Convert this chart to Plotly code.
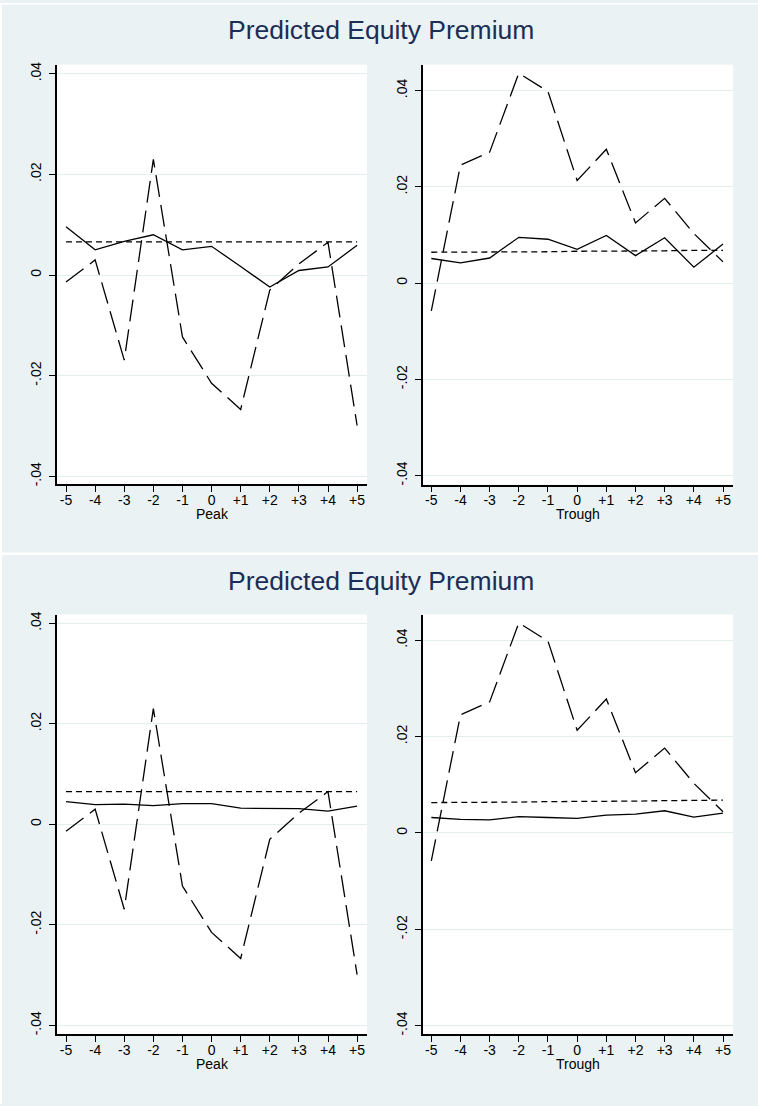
import plotly.graph_objects as go

# Event-time axis around business-cycle turning points
periods = [-5, -4, -3, -2, -1, 0, 1, 2, 3, 4, 5]
period_labels = ["-5", "-4", "-3", "-2", "-1", "0", "+1", "+2", "+3", "+4", "+5"]

# Upper graph: peak window
peak_model_a = [0.0096, 0.0050, 0.0067, 0.0080, 0.0050, 0.0057, 0.0017, -0.0024, 0.0009, 0.0016, 0.0059]
peak_realized = [-0.0014, 0.0030, -0.0169, 0.0230, -0.0123, -0.0215, -0.0267, -0.0030, 0.0022, 0.0065, -0.0299]
peak_mean = [0.0066, 0.0066, 0.0066, 0.0066, 0.0066, 0.0066, 0.0066, 0.0066, 0.0066, 0.0066, 0.0066]

# Upper graph: trough window
trough_model_a = [0.0051, 0.0042, 0.0052, 0.0095, 0.0091, 0.0070, 0.0099, 0.0057, 0.0094, 0.0033, 0.0081]
trough_realized = [-0.0058, 0.0245, 0.0272, 0.0436, 0.0398, 0.0213, 0.0278, 0.0125, 0.0176, 0.0103, 0.0044]
trough_mean = [0.0064, 0.0064, 0.0065, 0.0065, 0.0065, 0.0066, 0.0066, 0.0067, 0.0067, 0.0068, 0.0068]

# Lower graph: alternative predictor
peak_model_b = [0.0045, 0.0039, 0.0040, 0.0037, 0.0041, 0.0041, 0.0032, 0.0031, 0.0031, 0.0026, 0.0036]
trough_model_b = [0.0032, 0.0028, 0.0027, 0.0034, 0.0032, 0.0030, 0.0037, 0.0039, 0.0046, 0.0033, 0.0041]
peak_mean_b = [0.0065, 0.0065, 0.0065, 0.0065, 0.0065, 0.0065, 0.0065, 0.0065, 0.0065, 0.0065, 0.0065]
trough_mean_b = [0.0063, 0.0063, 0.0064, 0.0064, 0.0065, 0.0065, 0.0066, 0.0066, 0.0067, 0.0067, 0.0068]

y_ticks = [-0.04, -0.02, 0, 0.02, 0.04]
y_tick_labels = ["-.04", "-.02", "0", ".02", ".04"]

title_text = "Predicted Equity Premium"
x_titles = ["Peak", "Trough"]

W, H = 758, 1106
BG = "#EAF2F3"
GRID = "#E4EEEF"
FONT = "Liberation Sans, Arial, sans-serif"


def px_x(p):
    return p / W


def px_y(p):
    return 1 - p / H


# (left, right, top, bottom) in pixels, x-range, y-range
panels = [
    dict(box=(57, 367, 62, 483.5), xr=[-5.31, 5.34], yr=[-0.04158, 0.04178],
         solid=peak_model_a, dash=peak_realized, dot=peak_mean, xt=x_titles[0]),
    dict(box=(423, 733, 62, 483.7), xr=[-5.285, 5.343], yr=[-0.04186, 0.04536],
         solid=trough_model_a, dash=trough_realized, dot=trough_mean, xt=x_titles[1]),
    dict(box=(57, 367, 614.3, 1036), xr=[-5.31, 5.34], yr=[-0.04178, 0.04172],
         solid=peak_model_b, dash=peak_realized, dot=peak_mean_b, xt=x_titles[0]),
    dict(box=(423, 733, 614.3, 1036), xr=[-5.285, 5.343], yr=[-0.0418, 0.04533],
         solid=trough_model_b, dash=trough_realized, dot=trough_mean_b, xt=x_titles[1]),
]

fig = go.Figure()
annotations = []
layout_axes = {}

for i, p in enumerate(panels, start=1):
    xa = "x" if i == 1 else f"x{i}"
    ya = "y" if i == 1 else f"y{i}"
    l, r, t, b = p["box"]
    fig.add_trace(go.Scatter(x=periods, y=p["dot"], mode="lines", xaxis=xa, yaxis=ya,
                             line=dict(color="black", width=1.3, dash="6px,4px"),
                             showlegend=False, hoverinfo="skip"))
    fig.add_trace(go.Scatter(x=periods, y=p["solid"], mode="lines", xaxis=xa, yaxis=ya,
                             line=dict(color="black", width=1.3), showlegend=False))
    fig.add_trace(go.Scatter(x=periods, y=p["dash"], mode="lines", xaxis=xa, yaxis=ya,
                             line=dict(color="black", width=1.3, dash="22px,8px"),
                             showlegend=False))

    xkey = "xaxis" if i == 1 else f"xaxis{i}"
    ykey = "yaxis" if i == 1 else f"yaxis{i}"
    layout_axes[xkey] = dict(
        domain=[px_x(l), px_x(r)], anchor=ya, range=p["xr"],
        tickmode="array", tickvals=periods, ticktext=period_labels,
        showgrid=False, zeroline=False, showline=True, linecolor="black", linewidth=1.5,
        ticks="outside", ticklen=6, tickwidth=1, tickcolor="black",
        ticklabelstandoff=-4,
        tickfont=dict(family=FONT, size=14, color="black"),
    )
    layout_axes[ykey] = dict(
        domain=[px_y(b), px_y(t)], anchor=xa, range=p["yr"],
        tickmode="array", tickvals=y_ticks, ticktext=y_tick_labels, tickangle=-90,
        showgrid=True, gridcolor=GRID, gridwidth=1.2, zeroline=False,
        showline=True, linecolor="black", linewidth=1.5,
        ticks="outside", ticklen=6, tickwidth=1, tickcolor="black",
        ticklabelstandoff=3,
        tickfont=dict(family=FONT, size=14, color="black"),
    )
    annotations.append(dict(
        text=p["xt"], xref="paper", yref="paper",
        x=px_x((l + r) / 2), y=px_y(b + 30), xanchor="center", yanchor="middle",
        showarrow=False, font=dict(family=FONT, size=14, color="black"),
    ))

for cy in (27, 581):
    annotations.append(dict(
        text=title_text, xref="paper", yref="paper",
        x=px_x(380.7), y=px_y(cy), xanchor="center", yanchor="middle",
        showarrow=False, font=dict(family=FONT, size=26.5, color="#1C2D56"),
    ))

shapes = [
    dict(type="rect", xref="paper", yref="paper", x0=0, x1=px_x(2), y0=0, y1=1,
         fillcolor="white", line=dict(width=0), layer="below"),
    dict(type="rect", xref="paper", yref="paper", x0=0, x1=1, y0=px_y(1.5), y1=1,
         fillcolor="white", line=dict(width=0), layer="below"),
    dict(type="rect", xref="paper", yref="paper", x0=0, x1=1, y0=px_y(554.5), y1=px_y(552),
         fillcolor="white", line=dict(width=0), layer="below"),
]

fig.update_layout(
    width=W, height=H, margin=dict(l=0, r=0, t=0, b=0),
    paper_bgcolor=BG, plot_bgcolor="white",
    font=dict(family=FONT, color="black"),
    annotations=annotations, shapes=shapes, showlegend=False,
    **layout_axes,
)

fig.write_html("out.html")
